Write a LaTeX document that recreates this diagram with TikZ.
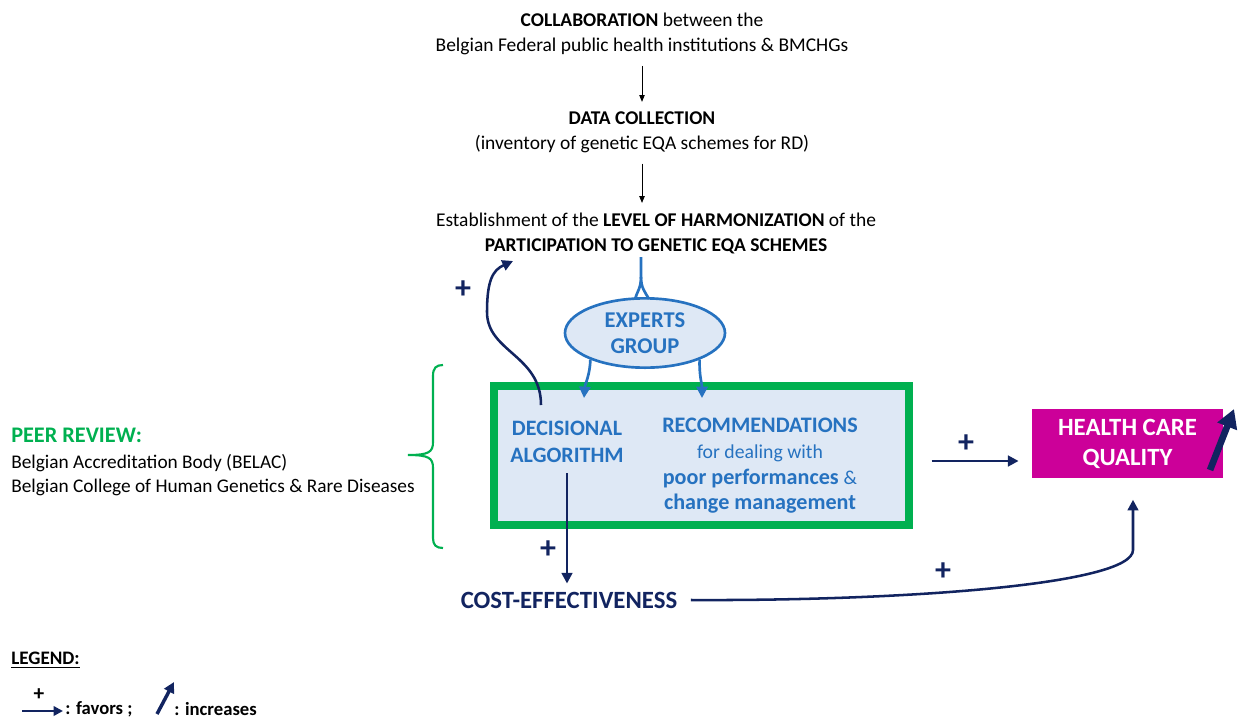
\documentclass[tikz,border=0pt]{standalone}
\usepackage{fontspec}
\setmainfont{Carlito}
\usetikzlibrary{arrows.meta,shapes.geometric}
\definecolor{navy}{RGB}{18,36,96}
\definecolor{bluetxt}{RGB}{38,114,192}
\definecolor{paleblue}{RGB}{222,232,245}
\definecolor{grn}{RGB}{0,176,80}
\definecolor{mag}{RGB}{204,0,153}
\tikzset{
  plain/.style={align=center,font=\fontsize{14.6}{18.8}\selectfont,inner sep=0pt},
  thinarrow/.style={-{Triangle[length=5pt,width=4pt]},line width=0.6pt,black},
  bluearrow/.style={-{Triangle[length=8.5pt,width=8.5pt]},line width=2pt,bluetxt},
  navyarrow/.style={-{Triangle[length=8pt,width=8pt]},line width=1.9pt,navy},
  plus/.style={font=\fontsize{24}{24}\bfseries\selectfont,text=navy,inner sep=0pt},
  bluebold/.style={align=center,text=bluetxt,font=\fontsize{16.5}{20.3}\bfseries\selectfont,inner sep=0pt}
}
\begin{document}
\begin{tikzpicture}[x=0.75pt,y=-0.75pt]
\useasboundingbox (0,0) rectangle (1238,718);

% top chain
\node[plain] (collab) at (642,34) {\textbf{COLLABORATION} between the\\Belgian Federal public health institutions \& BMCHGs};
\node[plain] (data) at (642,132) {\textbf{DATA COLLECTION}\\(inventory of genetic EQA schemes for RD)};
\node[plain] (level) at (656,233) {Establishment of the \textbf{LEVEL OF HARMONIZATION} of the\\\textbf{PARTICIPATION TO GENETIC EQA SCHEMES}};
\draw[thinarrow] ([yshift=-8pt]collab.south) -- ([yshift=7pt]collab.south |- data.north);
\draw[thinarrow] ([yshift=-8pt]collab.south |- data.south) -- ([yshift=7pt]collab.south |- level.north);

% experts group
\node[ellipse,draw=bluetxt,line width=2pt,fill=paleblue,minimum width=120pt,minimum height=52pt,
      bluebold,font=\fontsize{16.9}{19.5}\bfseries\selectfont] (experts) at (645,333) {EXPERTS\\GROUP};
\coordinate (stemtop) at (641,257);
\coordinate (fork) at (641,277);
\draw[bluetxt,line width=2pt] (stemtop) -- (fork)
  .. controls (641,288) and (637,292) .. (635,299);
\draw[bluetxt,line width=2pt] (fork) .. controls (641,288) and (645,292) .. (649,299);

% main box
\node[draw=grn,line width=6pt,fill=paleblue,minimum width=311pt,minimum height=104pt,inner sep=0pt]
  (box) at (701.5,455.5) {};
\node[bluebold] (algo) at (567,442) {DECISIONAL\\ALGORITHM};
\node[bluebold,font=\fontsize{16.6}{19.3}\selectfont] (reco) at (760,466)
  {\textbf{RECOMMENDATIONS}\\{\fontsize{14.8}{19.3}\selectfont for dealing with}\\\textbf{poor performances} {\fontsize{14.8}{19.3}\selectfont\&}\\\textbf{change management}};
\coordinate (algoin) at (584,398);
\coordinate (recoin) at (702,398);
\draw[bluearrow] (experts.206) .. controls (590,375) and (585,384) .. (algoin);
\draw[bluearrow] (experts.334) .. controls (699,375) and (702,384) .. (recoin);

% feedback arrow to harmonization
\coordinate (fbstart) at (541,405);
\coordinate (fbend) at (513,261);
\draw[navyarrow] (fbstart) .. controls (541,355) and (487,352) .. (487,312)
  .. controls (487,280) and (493,270) .. (fbend);
\node[plus] (p1) at (463,290) {+};

% cost-effectiveness
\node[text=navy,font=\fontsize{18.6}{20}\bfseries\selectfont,inner sep=0pt] (cost) at (569,600) {COST-EFFECTIVENESS};
\draw[navyarrow] (567,473) -- ([yshift=6pt]567,0 |- cost.north);
\node[plus] (p2) at (548,550) {+};

% health care quality
\node[fill=mag,minimum width=143pt,minimum height=52pt,inner sep=0pt,align=center,
      text=white,font=\fontsize{18.6}{22.5}\bfseries\selectfont] (hcq) at (1127.5,443.5) {HEALTH CARE\\QUALITY};
\draw[navyarrow] ([xshift=14pt]box.east |- 0,461) -- ([xshift=-10pt]hcq.west |- 0,461);
\node[plus] (p3) at (966,444) {+};
\draw[navyarrow] ([xshift=10pt]cost.east) .. controls (900,601) and (1133,585) .. (1133,550)
  -- ([yshift=-16pt]1133,0 |- hcq.south);
\node[plus] (p4) at (943,572) {+};
\coordinate (upa) at (1210,470);
\coordinate (upb) at (1234,409);
\draw[-{Triangle[length=14pt,width=15pt]},line width=5pt,navy] (upa) -- (upb);

% peer review
\node[anchor=west,align=left,inner sep=0pt,font=\fontsize{14.5}{17.5}\selectfont] (peer) at (11,462)
  {\textcolor{grn}{\fontsize{16.7}{18}\bfseries\selectfont PEER REVIEW:}\\[2pt]
   Belgian Accreditation Body (BELAC)\\Belgian College of Human Genetics \& Rare Diseases};
\draw[grn,line width=1.6pt]
  (443,365) .. controls (436,365) and (433,368) .. (433,376) -- (433,442)
  .. controls (433,452) and (429,455) .. (408,455)
  .. controls (429,455) and (433,458) .. (433,468) -- (433,538)
  .. controls (433,545) and (436,548) .. (443,548);

% legend
\node[anchor=west,inner sep=0pt,font=\fontsize{14.3}{16}\bfseries\selectfont] (legend) at (11,660) {\underline{LEGEND:}};
\coordinate (la) at (22,711);
\coordinate (lb) at (63,711);
\draw[-{Triangle[length=7pt,width=7pt]},line width=1.8pt,navy] (la) -- (lb);
\node[font=\fontsize{16}{16}\bfseries\selectfont,inner sep=0pt] (lplus) at (39,695) {+};
\node[anchor=west,inner sep=0pt,font=\fontsize{14}{16}\bfseries\selectfont] (lfav) at (65,709) {: favors ;};
\coordinate (lc) at (157,714);
\coordinate (ld) at (174,682);
\draw[-{Triangle[length=8pt,width=8pt]},line width=2.6pt,navy] (lc) -- (ld);
\node[anchor=west,inner sep=0pt,font=\fontsize{14}{16}\bfseries\selectfont] (linc) at (174,709) {: increases};
\end{tikzpicture}
\end{document}
